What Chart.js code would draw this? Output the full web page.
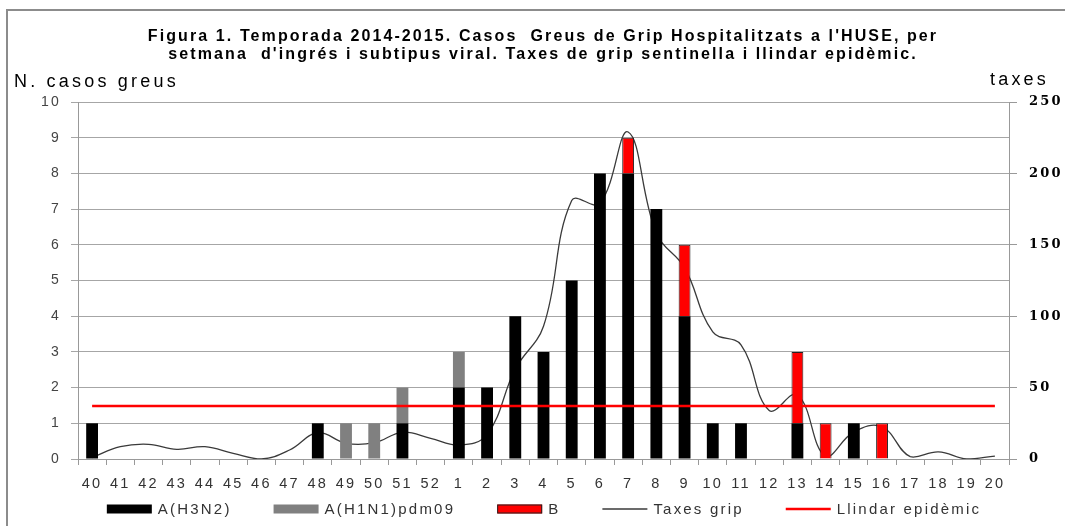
<!DOCTYPE html>
<html>
<head>
<meta charset="utf-8">
<script src="https://cdn.jsdelivr.net/npm/chart.js@4.4.0/dist/chart.umd.min.js"></script>
<style>
  body { margin: 0; background: #fff; }
  #caixa { position: relative; width: 1065px; height: 526px; overflow: hidden; }
  #marc { position: absolute; left: 6px; top: 9px; width: 1080px; height: 540px; border: 2px solid #8c8c8c; pointer-events: none; }
</style>
</head>
<body>
<div id="caixa">
  <canvas id="grafic" width="1065" height="526"></canvas>
  <div id="marc"></div>
</div>
<script>
// setmanes de la temporada 2014-2015
const setmanes = ['40','41','42','43','44','45','46','47','48','49','50','51','52',
  '1','2','3','4','5','6','7','8','9','10','11','12','13','14','15','16','17','18','19','20']

// casos greus per subtipus
const h3n2   = [1,0,0,0,0,0,0,0,1,0,0,1,0, 2,2,4,3,5,8,8,7,4,1,1,0,1,0,1,0,0,0,0,0]
const h1n1   = [0,0,0,0,0,0,0,0,0,1,1,1,0, 1,0,0,0,0,0,0,0,0,0,0,0,0,0,0,0,0,0,0,0]
const virusB = [0,0,0,0,0,0,0,0,0,0,0,0,0, 0,0,0,0,0,0,1,0,2,0,0,0,2,1,0,1,0,0,0,0]

// taxes de grip sentinella
const taxes = [1,8.6,10.3,6.8,8.6,4,0,6.3,18.4,11,11.4,18.7,14.5,
  9.8,17,63,93,181,179,229,158,134,89,80,34,45,1.6,19,22.6,1.6,5,0,2]
const llindar = setmanes.map(() => 37.1)

const titol = [
  "Figura 1. Temporada 2014-2015. Casos  Greus de Grip Hospitalitzats a l'HUSE, per",
  "setmana  d'ingrés i subtipus viral. Taxes de grip sentinella i llindar epidèmic."
]

const espaiat = '2.2px'

// titol, noms dels eixos i llegenda dibuixats a ma
const textos = {
  id: 'textos',
  beforeUpdate(chart) { chart.ctx.letterSpacing = espaiat },
  beforeDraw(chart) { chart.ctx.letterSpacing = espaiat },
  afterDraw(chart) {
    const ctx = chart.ctx
    const area = chart.chartArea
    ctx.save()

    // titol
    ctx.letterSpacing = '2.1px'
    ctx.font = 'bold 16px "Liberation Sans"'
    ctx.fillStyle = '#000'
    ctx.textAlign = 'center'
    ctx.textBaseline = 'alphabetic'
    ctx.fillText(titol[0], 543, 41)
    ctx.fillText(titol[1], 543, 59)

    // eixos
    ctx.letterSpacing = '3.2px'
    ctx.font = '18px "Liberation Sans"'
    ctx.textAlign = 'left'
    ctx.fillText('N. casos greus', 14, area.top - 15)
    ctx.textAlign = 'right'
    ctx.fillText('taxes', 1049, area.top - 17)

    // llegenda
    ctx.letterSpacing = espaiat
    ctx.font = '15px "Liberation Sans"'
    ctx.textAlign = 'left'
    ctx.textBaseline = 'middle'
    const conjunts = chart.data.datasets
    const amplades = conjunts.map(ds => 45 + 6 + ctx.measureText(ds.label).width)
    const separacio = 42
    const total = amplades.reduce((a, b) => a + b, 0) + separacio * (conjunts.length - 1)
    let x = 544 - total / 2
    const y = 509
    conjunts.forEach((ds, i) => {
      if (ds.type === 'line') {
        ctx.strokeStyle = ds.borderColor
        ctx.lineWidth = ds.borderWidth
        ctx.beginPath()
        ctx.moveTo(x, y)
        ctx.lineTo(x + 45, y)
        ctx.stroke()
      } else {
        ctx.fillStyle = ds.backgroundColor
        ctx.fillRect(x, y - 4.5, 45, 9)
        if (ds.borderWidth) {
          ctx.strokeStyle = ds.borderColor
          ctx.lineWidth = ds.borderWidth
          ctx.strokeRect(x + 0.5, y - 4, 44, 8)
        }
      }
      ctx.fillStyle = '#333'
      ctx.fillText(ds.label, x + 51, y + 1)
      x += amplades[i] + separacio
    })
    ctx.restore()
  }
}

const ctx = document.getElementById('grafic').getContext('2d')
const grafic = new Chart(ctx, {
  data: {
    labels: setmanes,
    datasets: [
      { type: 'bar', label: 'A(H3N2)', data: h3n2, backgroundColor: '#000000', yAxisID: 'y', order: 2 },
      { type: 'bar', label: 'A(H1N1)pdm09', data: h1n1, backgroundColor: '#808080', yAxisID: 'y', order: 2 },
      { type: 'bar', label: 'B', data: virusB, backgroundColor: '#ff0000', borderColor: '#222', borderWidth: 1, yAxisID: 'y', order: 2 },
      { type: 'line', label: 'Taxes grip', data: taxes, borderColor: '#3a3a3a', borderWidth: 1.3, tension: 0.4,
        pointRadius: 0, yAxisID: 'y1', order: 3 },
      { type: 'line', label: 'Llindar epidèmic', data: llindar, borderColor: '#ff0000', borderWidth: 2.5,
        pointRadius: 0, yAxisID: 'y1', order: 1 }
    ]
  },
  options: {
    responsive: false,
    animation: false,
    devicePixelRatio: 1,
    layout: { padding: { left: 0, right: 0, top: 102, bottom: 35 } },
    datasets: { bar: { barPercentage: 0.42, categoryPercentage: 1 } },
    plugins: {
      tooltip: { enabled: false },
      title: { display: false },
      legend: { display: false }
    },
    scales: {
      x: {
        stacked: true,
        offset: true,
        grid: { offset: true, drawOnChartArea: false, tickLength: 6, color: '#999' },
        border: { color: '#999' },
        ticks: { color: '#333', autoSkip: false, maxRotation: 0, padding: 10,
          font: { family: 'Liberation Sans', size: 14.5 } },
        afterFit(scale) { scale.height = 32 }
      },
      y: {
        stacked: true,
        position: 'left',
        min: 0,
        max: 10,
        ticks: { stepSize: 1, color: '#444', padding: 10, font: { family: 'Liberation Sans', size: 14 } },
        grid: { color: '#a6a6a6', tickLength: 7 },
        border: { color: '#999' },
        afterFit(scale) { scale.width = 78 }
      },
      y1: {
        position: 'right',
        min: 0,
        max: 250,
        ticks: { stepSize: 50, color: '#000', padding: 12,
          font: { family: 'DejaVu Serif', size: 13, weight: 'bold' } },
        grid: { drawOnChartArea: false, tickLength: 8, color: '#999' },
        border: { color: '#999' },
        afterFit(scale) { scale.width = 56 }
      }
    }
  },
  plugins: [textos]
})
</script>
</body>
</html>
